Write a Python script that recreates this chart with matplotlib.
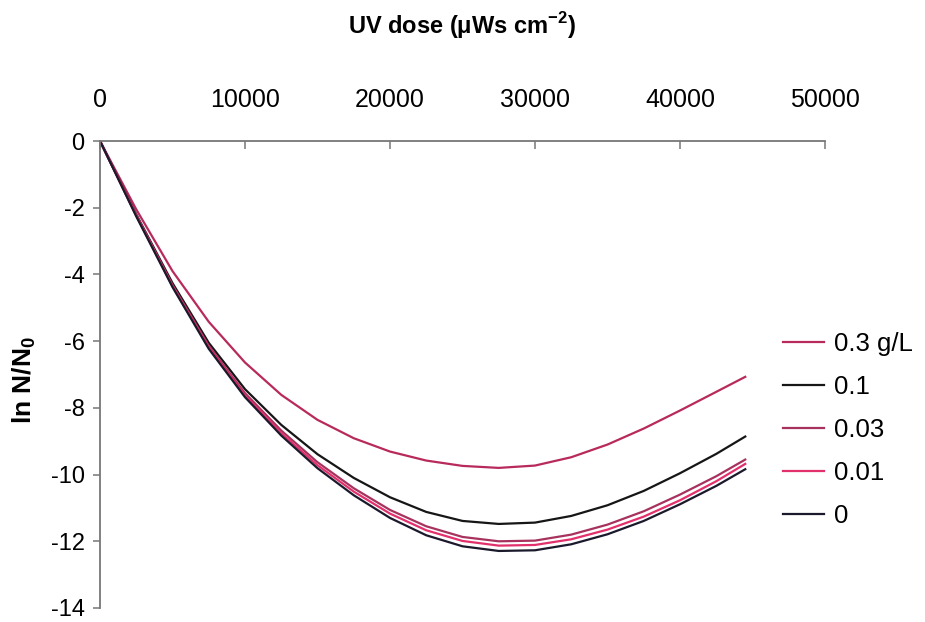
import matplotlib
matplotlib.use("Agg")
import matplotlib.pyplot as plt

plt.rcParams['font.family'] = ['Liberation Sans', 'DejaVu Sans']

# UV dose (µWs cm^-2)
dose = [0, 2500, 5000, 7500, 10000, 12500, 15000, 17500, 20000, 22500,
        25000, 27500, 30000, 32500, 35000, 37500, 40000, 42500, 44500]

# ln N/N0 for each concentration
ln_03 = [0, -2.05, -3.9, -5.42, -6.64, -7.61, -8.36, -8.91, -9.31, -9.58,
         -9.74, -9.8, -9.73, -9.48, -9.1, -8.62, -8.08, -7.52, -7.07]
ln_01 = [0, -2.2, -4.26, -6.05, -7.44, -8.51, -9.39, -10.1, -10.68, -11.12,
         -11.39, -11.48, -11.44, -11.24, -10.92, -10.49, -9.96, -9.38, -8.86]
ln_003 = [0, -2.22, -4.32, -6.14, -7.56, -8.68, -9.63, -10.41, -11.06, -11.55,
          -11.87, -12.0, -11.98, -11.8, -11.5, -11.1, -10.6, -10.05, -9.55]
ln_001 = [0, -2.24, -4.35, -6.19, -7.63, -8.76, -9.72, -10.51, -11.17, -11.67,
          -11.99, -12.13, -12.11, -11.94, -11.65, -11.26, -10.77, -10.2, -9.68]
ln_0 = [0, -2.26, -4.38, -6.23, -7.68, -8.83, -9.81, -10.62, -11.3, -11.82,
        -12.15, -12.29, -12.27, -12.09, -11.79, -11.39, -10.89, -10.34, -9.84]

labels = ['0.3 g/L', '0.1', '0.03', '0.01', '0']
x_ticks = [0, 10000, 20000, 30000, 40000, 50000]
y_ticks = [0, -2, -4, -6, -8, -10, -12, -14]

series = [ln_03, ln_01, ln_003, ln_001, ln_0]
colors = ['#b82a5c', '#161616', '#a8325e', '#e2306c', '#1a1a2c']

fig = plt.figure(figsize=(9.25, 6.22), dpi=100)
ax = fig.add_axes([100 / 925, 1 - 608 / 622, 725 / 925, 467 / 622])

for vals, col, lab in zip(series, colors, labels):
    ax.plot(dose, vals, color=col, lw=1.6, label=lab)

ax.set_xlim(0, 50000)
ax.set_ylim(-14, 0)
ax.set_xticks(x_ticks)
ax.set_yticks(y_ticks)
ax.set_yticklabels([str(v) for v in y_ticks])

ax.xaxis.tick_top()
ax.tick_params(axis='x', direction='in', length=6, width=1.1, color='#777777',
               labelsize=18, pad=21)
ax.tick_params(axis='y', direction='out', length=5, width=1.1, color='#777777',
               labelsize=17, pad=6)

for side in ('right', 'bottom'):
    ax.spines[side].set_visible(False)
for side in ('left', 'top'):
    ax.spines[side].set_color('#777777')
    ax.spines[side].set_linewidth(1.3)

fig.text(462 / 925, 1 - 26 / 622, 'UV dose (\u03bcWs cm$^{\\mathregular{-2}}$)',
         fontsize=17, fontweight='bold', ha='center', va='center')
fig.text(24 / 925, 1 - 380 / 622, 'ln N/N$_{\\mathregular{0}}$',
         fontsize=19, fontweight='bold', rotation=90, ha='center', va='center')

ax.legend(loc='upper left', bbox_to_anchor=(783 / 925, 1 - 332 / 622),
          bbox_transform=fig.transFigure, frameon=False, fontsize=18.5,
          handlelength=1.6, handletextpad=0.4, labelspacing=0.74,
          borderaxespad=0, borderpad=0)

fig.savefig('out.png', dpi=100)
